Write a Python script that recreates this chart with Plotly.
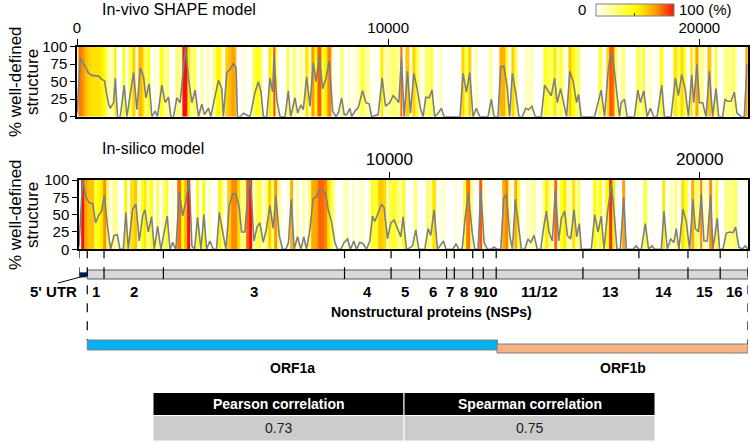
import plotly.graph_objects as go

W, H = 750, 443

# ---------------- data ----------------
# In-vivo SHAPE model: % well-defined structure along the genome (nt position, %)
top_pos = [0, 106, 192, 299, 374, 481, 588, 695, 780, 887,
           941, 1016, 1069, 1176, 1230, 1304, 1390, 1518, 1604, 1711,
           1818, 1925, 2032, 2139, 2214, 2321, 2406, 2513, 2588, 2727,
           2834, 2941, 3016, 3101, 3208, 3315, 3487, 3583, 3690, 3797,
           3904, 4011, 4096, 4225, 4300, 4417, 4546, 4653, 4706, 4813,
           4920, 5027, 5113, 5155, 5241, 5348, 5455, 5562, 5722, 5829,
           5915, 5990, 6097, 6204, 6289, 6332, 6418, 6525, 6685, 6792,
           6867, 7006, 7091, 7198, 7273, 7380, 7487, 7594, 7680, 7787,
           7894, 8001, 8108, 8215, 8322, 8397, 8504, 8589, 8664, 8771,
           8825, 8932, 9039, 9178, 9285, 9392, 9466,
           9572, 9679, 9807, 9914, 10053, 10160, 10267, 10342, 10428, 10513,
           10620, 10717, 10824, 10931, 11037, 11123, 11209, 11316, 11412, 11497,
           11604, 11711, 11797, 11925, 12086, 12246, 12310, 12407, 12514, 12621,
           12728, 12835, 12942, 13049, 13209, 13316, 13402, 13530, 13615, 13722,
           13829, 13904, 13990, 14097, 14204, 14311, 14418, 14514, 14621, 14728,
           14814, 14921, 15027, 15134, 15241, 15348, 15434, 15541, 15648, 15734,
           15840, 15947, 16054, 16119, 16204, 16418, 16632, 16846, 16953, 17060,
           17145, 17220, 17327, 17434, 17488, 17595, 17680, 17787, 17916, 18023,
           18108, 18215, 18322, 18429, 18536, 18643, 18793, 18878, 18985, 19092,
           19231, 19328, 19435, 19542, 19649, 19756, 19820, 19927, 20002, 20109,
           20216, 20322, 20429, 20536, 20622, 20750, 20825, 20911, 21018, 21125,
           21210, 21339, 21446, 21531]
top_val = [5, 83, 78, 68, 62, 59, 58, 58, 54, 51,
           35, 18, 12, 20, 55, 0, 0, 45, 0, 35,
           63, 10, 70, 57, 27, 47, 0, 8, 0, 45,
           20, 28, 0, 0, 27, 20, 100, 55, 20, 38,
           0, 18, 3, 12, 0, 25, 52, 40, 0, 63,
           68, 76, 70, 0, 0, 5, 3, 0, 35, 50,
           35, 0, 0, 55, 35, 90, 25, 0, 0, 37,
           0, 27, 5, 17, 10, 57, 15, 77, 50, 87,
           40, 55, 80, 8, 0, 5, 27, 3, 3, 12,
           0, 8, 13, 37, 20, 18, 0,
           2, 3, 55, 15, 20, 30, 25, 20, 85, 0,
           65, 5, 62, 40, 12, 0, 28, 27, 38, 0,
           5, 12, 0, 0, 0, 0, 0, 62, 35, 63,
           0, 12, 0, 0, 0, 25, 0, 0, 71, 72,
           40, 0, 62, 35, 0, 0, 12, 10, 15, 0,
           0, 0, 45, 37, 30, 55, 20, 40, 15, 0,
           65, 50, 20, 32, 0, 0, 0, 38, 0, 60,
           90, 85, 38, 0, 20, 25, 0, 0, 0, 38,
           20, 37, 0, 12, 0, 0, 45, 0, 0, 0,
           55, 30, 60, 40, 0, 60, 20, 75, 20, 20,
           0, 65, 0, 40, 0, 0, 25, 22, 22, 35,
           5, 0, 0, 75]

# In-silico model
bot_pos = [0, 118, 225, 332, 440, 536, 644, 730, 815, 912,
           1019, 1127, 1234, 1320, 1427, 1513, 1588, 1728, 1835, 1942,
           2050, 2125, 2232, 2339, 2425, 2533, 2640, 2747, 2844, 2930,
           3016, 3123, 3230, 3338, 3445, 3552, 3638, 3724, 3821, 3928,
           4025, 4110, 4218, 4325, 4432, 4518, 4626, 4733, 4840, 4948,
           5055, 5162, 5237, 5345, 5452, 5527, 5635, 5742, 5828, 5935,
           6042, 6150, 6257, 6343, 6450, 6558, 6665, 6751, 6837, 6933,
           7041, 7148, 7245, 7330, 7438, 7545, 7652, 7738, 7845, 7953,
           8028, 8135, 8243, 8329, 8436, 8543, 8651, 8747, 8854, 8940,
           9048, 9155, 9262, 9369, 9455, 9531, 9746, 9832, 9939, 10046,
           10154, 10261, 10368, 10443, 10551, 10658, 10744, 10851, 10948, 11055,
           11141, 11248, 11334, 11441, 11549, 11635, 11742, 11828, 11935, 12043,
           12150, 12236, 12343, 12429, 12547, 12665, 12751, 12858, 12944, 13051,
           13159, 13266, 13373, 13481, 13588, 13685, 13771, 13878, 13964, 14060,
           14146, 14254, 14361, 14468, 14554, 14661, 14769, 14876, 14951, 15058,
           15144, 15252, 15348, 15456, 15541, 15649, 15735, 15842, 15949, 16035,
           16121, 16185, 16293, 16400, 16507, 16615, 16722, 16829, 16915, 17023,
           17151, 17237, 17334, 17441, 17549, 17634, 17742, 17849, 17956, 18031,
           18117, 18246, 18354, 18461, 18547, 18654, 18761, 18847, 18955, 19062,
           19169, 19244, 19330, 19459, 19566, 19674, 19781, 19856, 19963, 20049,
           20135, 20243, 20350, 20425, 20565, 20640, 20747, 20854, 20962, 21069,
           21155, 21262, 21370, 21466, 21552]
bot_val = [4, 100, 75, 67, 66, 38, 50, 55, 78, 35,
           0, 20, 21, 0, 0, 53, 0, 58, 65, 12,
           48, 57, 25, 47, 0, 33, 0, 28, 48, 0,
           10, 0, 83, 48, 70, 100, 5, 0, 46, 0,
           50, 0, 12, 0, 0, 53, 25, 0, 63, 80,
           80, 60, 25, 25, 87, 100, 12, 33, 38, 10,
           30, 63, 30, 77, 20, 0, 0, 10, 72, 0,
           18, 0, 18, 0, 28, 73, 76, 86, 85, 80,
           57, 40, 10, 0, 0, 10, 15, 0, 12, 0,
           10, 8, 0, 12, 48, 40, 65, 60, 15, 38,
           42, 30, 18, 47, 0, 2, 5, 28, 0, 0,
           0, 30, 20, 57, 0, 5, 12, 0, 0, 0,
           8, 0, 0, 40, 82, 25, 0, 0, 87, 10,
           0, 0, 3, 0, 0, 73, 80, 20, 0, 72,
           40, 0, 0, 15, 10, 20, 0, 0, 25, 55,
           25, 12, 85, 12, 45, 55, 20, 15, 57, 18,
           37, 0, 0, 0, 0, 50, 25, 48, 0, 50,
           95, 55, 0, 0, 75, 0, 0, 0, 5, 0,
           0, 37, 0, 5, 0, 0, 0, 55, 0, 15,
           10, 30, 0, 58, 40, 0, 72, 30, 25, 80,
           12, 12, 78, 0, 45, 0, 0, 23, 25, 24,
           32, 3, 0, 5, 0]

top_ticks = [0, 10000, 20000]
bot_ticks = [10000, 20000]
y_ticks = [0, 25, 50, 75, 100]

genome_end = 21555
utr5_end = 265
nsp_names = ["1", "2", "3", "4", "5", "6", "7", "8", "9", "10",
             "11/12", "13", "14", "15", "16"]
nsp_start = [266, 806, 2720, 8555, 10055, 10973, 11843, 12092, 12686, 13025,
             13442, 16237, 18040, 19621, 20659]
orf_names = ["ORF1a", "ORF1b"]
orf_start = [266, 13468]
orf_end = [13483, 21555]

table_header = ["Pearson correlation", "Spearman correlation"]
table_values = ["0.73", "0.75"]

# ---------------- helpers ----------------
FONT = "Arial, Liberation Sans, Helvetica, sans-serif"


def py(p):
    return 1 - p / H


def px(p):
    return p / W


colorscale = [[0.0, "#FFFFFF"], [0.5, "#FFFF00"], [0.75, "#FFA500"], [1.0, "#F81010"]]

fig = go.Figure()

for pos, val, xa, ya in [(top_pos, top_val, "x", "y"), (bot_pos, bot_val, "x2", "y2")]:
    fig.add_trace(go.Heatmap(x=pos, z=[val], y0=50, dy=100, coloraxis="coloraxis",
                             xaxis=xa, yaxis=ya, hoverinfo="skip"))
    fig.add_trace(go.Scatter(x=pos, y=val, mode="lines", xaxis=xa, yaxis=ya,
                             line=dict(color="#7F7F7F", width=1.6), showlegend=False))

axis_common = dict(showline=True, mirror=True, linecolor="black", linewidth=1.5,
                   showgrid=False, zeroline=False, ticks="outside", tickcolor="black",
                   tickwidth=1.3)

fig.update_layout(
    width=W, height=H, margin=dict(l=0, r=0, t=0, b=0, autoexpand=False),
    paper_bgcolor="white", plot_bgcolor="white", showlegend=False,
    font=dict(family=FONT, color="black"),
    coloraxis=dict(
        colorscale=colorscale, cmin=0, cmax=100,
        colorbar=dict(orientation="h", x=px(634.5), xanchor="center", y=py(4.5),
                      yanchor="top", len=78 / W, lenmode="fraction", thickness=12,
                      thicknessmode="pixels", outlinewidth=1, outlinecolor="#808080",
                      showticklabels=False, ticks="inside", tickvals=[50], ticklen=3,
                      tickcolor="#333", xpad=0, ypad=0)),
    xaxis=dict(domain=[px(77), px(747.7)], range=[0, genome_end], side="top",
               anchor="y", tickvals=top_ticks, ticktext=[str(t) for t in top_ticks],
               ticklen=6, tickfont=dict(size=15), **axis_common),
    yaxis=dict(domain=[py(116.7), py(46.7)], range=[0, 100], anchor="x",
               tickvals=y_ticks, ticklen=5, tickfont=dict(size=15), **axis_common),
    xaxis2=dict(domain=[px(79), px(748)], range=[0, genome_end], side="top",
                anchor="y2", tickvals=bot_ticks, ticktext=[str(t) for t in bot_ticks],
                ticklen=6, tickfont=dict(size=17), **axis_common),
    yaxis2=dict(domain=[py(249.3), py(180)], range=[0, 100], anchor="x2",
                tickvals=y_ticks, ticklen=5, tickfont=dict(size=15), **axis_common),
)

ann = []
# panel titles
ann.append(dict(text="In-vivo SHAPE model", x=px(100), y=py(9), xref="paper", yref="paper",
                xanchor="left", yanchor="middle", showarrow=False, font=dict(size=16)))
ann.append(dict(text="In-silico model", x=px(100), y=py(148), xref="paper", yref="paper",
                xanchor="left", yanchor="middle", showarrow=False, font=dict(size=16)))
# y titles
for cy in (82, 215):
    ann.append(dict(text="% well-defined", x=px(15), y=py(cy), xref="paper", yref="paper",
                    textangle=-90, showarrow=False, font=dict(size=17),
                    xanchor="center", yanchor="middle"))
    ann.append(dict(text="structure", x=px(32), y=py(cy), xref="paper", yref="paper",
                    textangle=-90, showarrow=False, font=dict(size=17),
                    xanchor="center", yanchor="middle"))
# colorbar labels
ann.append(dict(text="0", x=px(588), y=py(10), xref="paper", yref="paper",
                xanchor="right", yanchor="middle", showarrow=False, font=dict(size=15)))
ann.append(dict(text="100 (%)", x=px(677), y=py(10), xref="paper", yref="paper",
                xanchor="left", yanchor="middle", showarrow=False, font=dict(size=15)))

# gene map
shapes = []
bar_top, bar_bot = 270, 279
panel_bot = 249.3
nsp_end = nsp_start[1:] + [genome_end]
# gray NSP bar
shapes.append(dict(type="rect", xref="x2", yref="paper", x0=nsp_start[0], x1=genome_end,
                   y0=py(bar_bot), y1=py(bar_top), fillcolor="#D9D9D9",
                   line=dict(color="#595959", width=1)))
for s in nsp_start[1:]:
    shapes.append(dict(type="line", xref="x2", yref="paper", x0=s, x1=s,
                       y0=py(bar_bot), y1=py(bar_top), line=dict(color="black", width=1.2)))
    shapes.append(dict(type="line", xref="x2", yref="paper", x0=s, x1=s,
                       y0=py(panel_bot), y1=py(bar_top),
                       line=dict(color="black", width=1.2, dash="dash")))
# 5' UTR block
shapes.append(dict(type="rect", xref="x2", yref="paper", x0=0, x1=utr5_end,
                   y0=py(277), y1=py(272.5), fillcolor="#0D1B3E",
                   line=dict(color="#2E75B6", width=1)))
shapes.append(dict(type="line", xref="x2", yref="paper", x0=0, x1=0,
                   y0=py(panel_bot), y1=py(272.5),
                   line=dict(color="black", width=1.2, dash="dash")))
# ORF bars
orf_colors = ["#00B0F0", "#F4B183"]
orf_y = [(340, 350), (344, 353)]
for i in range(2):
    shapes.append(dict(type="rect", xref="x2", yref="paper", x0=orf_start[i], x1=orf_end[i],
                       y0=py(orf_y[i][1]), y1=py(orf_y[i][0]), fillcolor=orf_colors[i],
                       line=dict(color="#7F7F7F", width=1)))
# long dashed lines to the ORFs
shapes.append(dict(type="line", xref="x2", yref="paper", x0=nsp_start[0], x1=nsp_start[0],
                   y0=py(panel_bot), y1=py(340),
                   line=dict(color="black", width=1.2, dash="dash")))
shapes.append(dict(type="line", xref="x2", yref="paper", x0=genome_end, x1=genome_end,
                   y0=py(panel_bot), y1=py(344),
                   line=dict(color="black", width=1.2, dash="dash")))
# 5' UTR leader line
shapes.append(dict(type="line", xref="paper", yref="paper", x0=px(58), x1=px(86),
                   y0=py(283), y1=py(275.5), line=dict(color="black", width=1)))

for name, s, e in zip(nsp_names, nsp_start, nsp_end):
    ann.append(dict(text="<b>%s</b>" % name, x=(s + e) / 2, y=py(291), xref="x2",
                    yref="paper", showarrow=False, font=dict(size=15),
                    xanchor="center", yanchor="middle"))
ann.append(dict(text="<b>5' UTR</b>", x=px(53), y=py(291), xref="paper", yref="paper",
                showarrow=False, font=dict(size=15), xanchor="center", yanchor="middle"))
ann.append(dict(text="<b>Nonstructural proteins (NSPs)</b>", x=px(431), y=py(312),
                xref="paper", yref="paper", showarrow=False, font=dict(size=14),
                xanchor="center", yanchor="middle"))
for i in range(2):
    ann.append(dict(text="<b>%s</b>" % orf_names[i], x=(orf_start[i] + orf_end[i]) / 2,
                    y=py(368), xref="x2", yref="paper", showarrow=False,
                    font=dict(size=14), xanchor="center", yanchor="middle"))

# correlation table (header row + value row)
col_edges = [153, 404, 655]
head_top, head_bot, body_bot = 392.5, 415.5, 441
for i in range(2):
    x0, x1 = col_edges[i], col_edges[i + 1]
    shapes.append(dict(type="rect", xref="paper", yref="paper", x0=px(x0), x1=px(x1),
                       y0=py(head_bot), y1=py(head_top), fillcolor="black",
                       line=dict(color="white", width=1)))
    shapes.append(dict(type="rect", xref="paper", yref="paper", x0=px(x0), x1=px(x1),
                       y0=py(body_bot), y1=py(head_bot), fillcolor="#CCCCCC",
                       line=dict(color="white", width=1)))
    ann.append(dict(text="<b>%s</b>" % table_header[i], x=px((x0 + x1) / 2),
                    y=py((head_top + head_bot) / 2), xref="paper", yref="paper",
                    showarrow=False, font=dict(size=14, color="white"),
                    xanchor="center", yanchor="middle"))
    ann.append(dict(text=table_values[i], x=px((x0 + x1) / 2),
                    y=py((head_bot + body_bot) / 2), xref="paper", yref="paper",
                    showarrow=False, font=dict(size=14, color="#222222"),
                    xanchor="center", yanchor="middle"))

fig.update_layout(annotations=ann, shapes=shapes)

fig.write_html("out.html", config={"displayModeBar": False},
               post_script="document.documentElement.style.margin='0';"
                           "document.body.style.margin='0';"
                           "document.body.style.padding='0';"
                           "document.body.style.overflow='hidden';"
                           "var gd=document.getElementById('{plot_id}');"
                           "gd.style.position='fixed';gd.style.top='0px';"
                           "gd.style.left='0px';")
